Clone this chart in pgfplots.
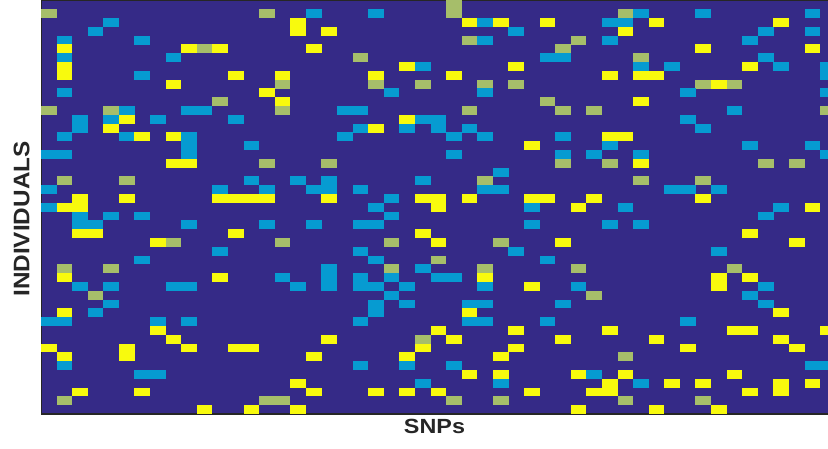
\documentclass[border=0pt]{standalone}
\usepackage{graphicx}
\usepackage{pgfplots}
\usepackage{pgfplotstable}
\pgfplotsset{compat=1.18}
\usepackage{fontspec}
\setmainfont{Liberation Sans}
\definecolor{bgC}{HTML}{352A87}
\definecolor{cyanC}{HTML}{069BD1}
\definecolor{greenC}{HTML}{A6BE6A}
\definecolor{yellowC}{HTML}{F8FA0D}
\definecolor{axC}{HTML}{262626}
\pgfdeclareplotmark{cell}{\pgfpathrectangle{\pgfpoint{-7.84pt}{-4.44pt}}{\pgfpoint{15.68pt}{8.88pt}}\pgfusepathqfill}
% columns 1..51 (SNPs), rows 1..47 (individuals, top to bottom)
% C = value 1 (blue), G = value 2 (green), Y = value 3 (yellow); others 0
\pgfplotstableread{
x y c
27 1 G
1 2 G
15 2 G
18 2 C
22 2 C
27 2 G
38 2 G
39 2 C
43 2 C
50 2 C
5 3 C
17 3 Y
28 3 Y
29 3 C
30 3 Y
33 3 Y
37 3 C
38 3 C
40 3 Y
48 3 Y
4 4 C
17 4 Y
19 4 Y
31 4 C
38 4 Y
47 4 C
50 4 C
2 5 C
7 5 C
28 5 G
29 5 C
35 5 G
37 5 C
46 5 C
2 6 Y
10 6 Y
11 6 G
12 6 Y
18 6 Y
34 6 G
43 6 Y
50 6 Y
2 7 C
9 7 C
21 7 G
33 7 C
34 7 C
39 7 G
47 7 C
2 8 Y
24 8 Y
25 8 C
31 8 Y
39 8 C
41 8 C
46 8 Y
48 8 C
51 8 C
2 9 Y
7 9 C
13 9 Y
16 9 Y
22 9 Y
27 9 Y
37 9 Y
39 9 Y
40 9 Y
51 9 C
9 10 Y
16 10 G
22 10 G
25 10 G
29 10 G
31 10 G
43 10 G
44 10 Y
45 10 G
2 11 C
15 11 Y
23 11 C
29 11 C
42 11 C
51 11 C
12 12 G
16 12 Y
33 12 G
39 12 Y
1 13 G
5 13 G
6 13 C
10 13 C
11 13 C
16 13 G
20 13 C
21 13 C
28 13 G
34 13 G
36 13 G
45 13 C
51 13 G
3 14 C
5 14 C
6 14 Y
8 14 C
13 14 C
24 14 Y
25 14 C
26 14 C
42 14 C
3 15 C
5 15 Y
21 15 C
22 15 Y
24 15 C
26 15 C
28 15 C
43 15 C
2 16 C
6 16 C
7 16 Y
9 16 Y
10 16 C
20 16 C
27 16 C
29 16 C
34 16 C
37 16 Y
38 16 Y
10 17 C
14 17 C
32 17 Y
37 17 C
46 17 C
50 17 C
1 18 C
2 18 C
10 18 C
27 18 C
34 18 C
36 18 C
39 18 C
51 18 C
9 19 Y
10 19 Y
15 19 G
19 19 G
34 19 G
37 19 G
39 19 Y
47 19 G
49 19 G
30 20 C
2 21 G
6 21 G
14 21 C
17 21 C
19 21 C
25 21 C
29 21 G
39 21 G
43 21 G
1 22 C
12 22 C
15 22 C
18 22 C
19 22 C
21 22 C
29 22 C
30 22 C
41 22 C
42 22 C
44 22 C
3 23 Y
6 23 Y
12 23 Y
13 23 Y
14 23 Y
15 23 Y
19 23 Y
23 23 C
25 23 Y
26 23 Y
28 23 Y
32 23 Y
33 23 Y
36 23 Y
43 23 Y
1 24 C
2 24 Y
3 24 Y
22 24 C
26 24 Y
32 24 C
35 24 Y
38 24 C
48 24 C
50 24 Y
3 25 C
5 25 C
7 25 C
23 25 C
47 25 C
3 26 C
4 26 C
10 26 C
15 26 C
18 26 C
21 26 C
22 26 C
32 26 C
37 26 C
39 26 C
3 27 Y
4 27 Y
13 27 Y
25 27 Y
46 27 Y
8 28 Y
9 28 G
16 28 G
23 28 G
26 28 Y
30 28 G
34 28 Y
49 28 Y
12 29 C
21 29 C
31 29 C
44 29 C
7 30 C
22 30 C
26 30 G
33 30 C
2 31 G
5 31 G
19 31 C
23 31 G
25 31 C
29 31 G
35 31 G
45 31 G
2 32 Y
12 32 Y
16 32 C
19 32 C
21 32 C
23 32 C
26 32 C
27 32 C
29 32 Y
44 32 Y
46 32 Y
3 33 C
5 33 C
9 33 C
10 33 C
17 33 C
19 33 C
21 33 C
22 33 C
24 33 C
29 33 C
32 33 Y
35 33 C
44 33 Y
47 33 C
4 34 G
23 34 C
36 34 G
46 34 C
5 35 C
22 35 C
24 35 C
28 35 C
29 35 C
34 35 C
47 35 C
2 36 Y
4 36 C
22 36 C
28 36 Y
48 36 Y
1 37 C
2 37 C
8 37 C
10 37 C
21 37 C
28 37 C
29 37 C
33 37 C
42 37 C
8 38 Y
26 38 Y
31 38 Y
37 38 Y
45 38 Y
46 38 Y
51 38 Y
9 39 Y
19 39 Y
25 39 G
27 39 Y
34 39 Y
40 39 Y
48 39 Y
1 40 Y
6 40 Y
10 40 Y
13 40 Y
14 40 Y
25 40 Y
31 40 Y
42 40 Y
49 40 Y
2 41 Y
6 41 Y
18 41 Y
24 41 Y
30 41 Y
38 41 G
2 42 C
21 42 C
24 42 C
27 42 C
50 42 C
51 42 C
7 43 C
8 43 C
28 43 Y
30 43 Y
35 43 Y
36 43 C
38 43 Y
45 43 Y
17 44 Y
25 44 C
30 44 C
37 44 Y
39 44 C
41 44 Y
43 44 Y
48 44 Y
50 44 Y
3 45 Y
7 45 Y
18 45 Y
22 45 Y
24 45 Y
26 45 Y
32 45 Y
36 45 Y
37 45 Y
46 45 Y
48 45 Y
2 46 G
15 46 G
16 46 G
27 46 G
30 46 G
38 46 G
43 46 G
11 47 Y
14 47 Y
17 47 Y
35 47 Y
40 47 Y
44 47 Y
}\cells
\begin{document}
\begin{tikzpicture}
\begin{axis}[
  scale only axis,
  width=787pt, height=413.5pt,
  xmin=0.5, xmax=51, ymin=0.5, ymax=47.5,
  y dir=reverse,
  xtick=\empty, ytick=\empty,
  axis line style={draw=none},
  axis background/.style={fill=bgC},
  xlabel={\scalebox{1.14}[1]{\fontsize{20.5}{24}\selectfont\bfseries SNPs}},
  ylabel={\scalebox{1.08}[1]{\fontsize{22.5}{26}\selectfont\bfseries INDIVIDUALS}},
  xlabel style={at={(axis description cs:0.5,0)}, anchor=base, yshift=-19.7pt, text=axC},
  ylabel style={at={(axis description cs:-0.0149,0.4716)}, anchor=base, text=axC},
]
\addplot[scatter, only marks, mark=cell,
  scatter src=explicit symbolic,
  scatter/classes={C={cyanC}, G={greenC}, Y={yellowC}}]
  table[x=x, y=y, meta=c] {\cells};
\draw[axC, line width=1.4pt] (axis description cs:1,1) -- (axis description cs:0,1) -- (axis description cs:0,0) -- (axis description cs:1,0);
\end{axis}
\pgfresetboundingbox
\path[use as bounding box] (-41pt,-34pt) rectangle (787pt,414pt);
\end{tikzpicture}
\end{document}
